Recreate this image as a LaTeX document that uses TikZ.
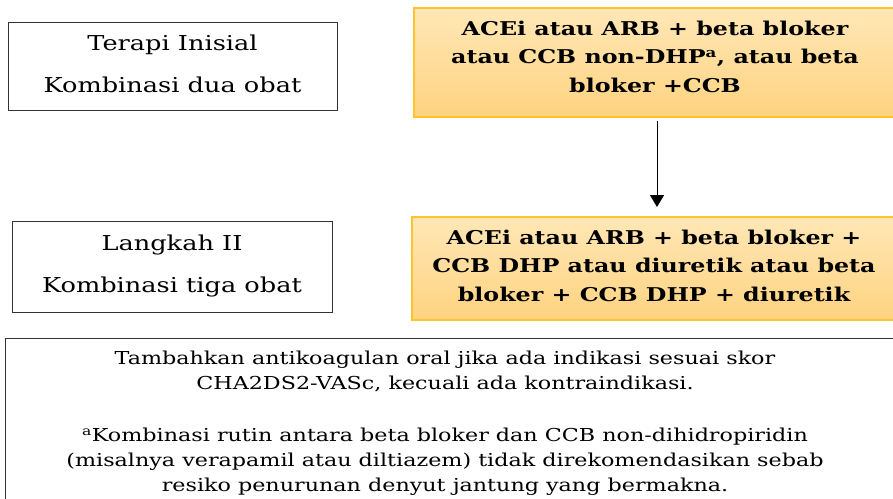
\documentclass[tikz,border=0pt]{standalone}
\usepackage{fontspec}
\setmainfont{DejaVu Serif}[FakeStretch=1.25]
\usetikzlibrary{arrows.meta}
\definecolor{obord}{RGB}{255,196,45}
\definecolor{otop}{RGB}{255,231,182}
\definecolor{obot}{RGB}{254,211,128}
\tikzset{
  plainbox/.style={draw=black!80, line width=0.9pt, fill=white, inner sep=0pt},
  plaintext/.style={align=center, inner sep=0pt, font=\fontsize{20.5}{42}\selectfont},
  orangebox/.style={draw=obord, line width=1.3pt, top color=otop, bottom color=obot, inner sep=0pt},
  orangetext/.style={align=center, inner sep=0pt, font=\bfseries\fontsize{19}{28.5}\selectfont},
  notebox/.style={draw=black!80, line width=0.9pt, fill=white, inner sep=0pt},
  notetext/.style={align=center, inner sep=0pt, font=\fontsize{17.8}{25}\selectfont},
  flowarrow/.style={line width=0.9pt, -{Triangle[width=14pt,length=12pt]}}
}
\begin{document}
\begin{tikzpicture}[x=1pt,y=-1pt]
\useasboundingbox (0,0) rectangle (893,498);
\clip (0,0) rectangle (893,498);
\node[plainbox, minimum width=329pt, minimum height=88pt] (t1) at (172.5,66) {};
\node[plaintext] (t1t) at (172.5,63.5) {Terapi Inisial\\Kombinasi dua obat};
\node[plainbox, minimum width=320pt, minimum height=91pt] (t2) at (172,266.5) {};
\node[plaintext] (t2t) at (172,265.5) {Langkah II\\Kombinasi tiga obat};
\node[orangebox, minimum width=482pt, minimum height=109pt] (o1) at (655,62.5) {};
\node[orangetext] (o1t) at (655,56.5)
  {ACEi atau ARB + beta bloker\\atau CCB non-DHP\textsuperscript{a}, atau beta\\bloker +CCB};
\node[orangebox, minimum width=484pt, minimum height=103pt] (o2) at (654,268.5) {};
\node[orangetext] (o2t) at (654,265.5)
  {ACEi atau ARB + beta bloker +\\CCB DHP atau diuretik atau beta\\bloker + CCB DHP + diuretik};
\node[notebox, minimum width=892pt, minimum height=164pt] (n) at (451,420) {};
\node[notetext] (n1) at (445,371)
  {Tambahkan antikoagulan oral jika ada indikasi sesuai skor\\CHA2DS2-VASc, kecuali ada kontraindikasi.};
\node[notetext] (n2) at (445,461.5)
  {\textsuperscript{a}Kombinasi rutin antara beta bloker dan CCB non-dihidropiridin\\(misalnya verapamil atau diltiazem) tidak direkomendasikan sebab\\resiko penurunan denyut jantung yang bermakna.};
\coordinate (a1) at (657,121);
\coordinate (a2) at (657,207);
\draw[flowarrow] (a1) -- (a2);
\end{tikzpicture}
\end{document}
